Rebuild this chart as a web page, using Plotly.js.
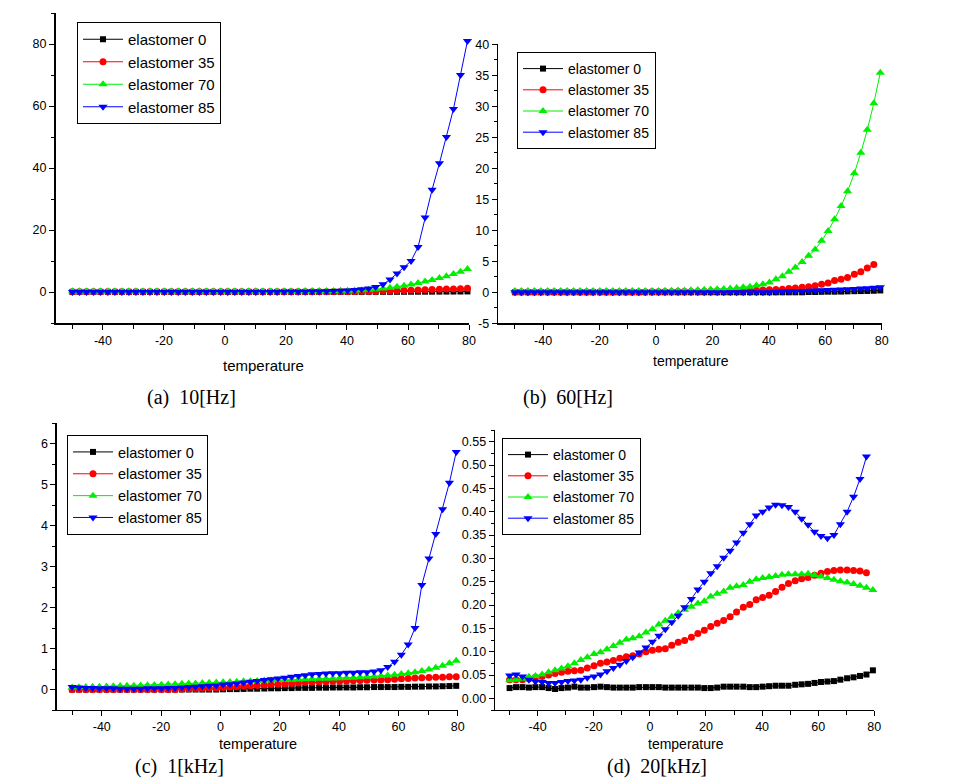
<!DOCTYPE html>
<html>
<head>
<meta charset="utf-8">
<script src="https://cdn.plot.ly/plotly-3.0.1.min.js"></script>
<style>html,body{margin:0;padding:0;background:#fff;}#chart{width:976px;height:779px;}</style>
</head>
<body>
<div id="chart"></div>
<script>
// Temperature (°C)
const temperature = [-50.0,-47.7,-45.4,-43.1,-40.8,-38.4,-36.1,-33.8,-31.5,-29.2,
  -26.9,-24.6,-22.3,-19.9,-17.6,-15.3,-13.0,-10.7,-8.4,-6.1,
  -3.8,-1.4,0.9,3.2,5.5,7.8,10.1,12.4,14.8,17.1,
  19.4,21.7,24.0,26.3,28.6,30.9,33.3,35.6,37.9,40.2,
  42.5,44.8,47.1,49.4,51.8,54.1,56.4,58.7,61.0,63.3,
  65.6,67.9,70.3,72.6,74.9,77.2,79.5];

const seriesNames = ['elastomer 0','elastomer 35','elastomer 70','elastomer 85'];
const captions = ['(a)\u00a0\u00a010[Hz]','(b)\u00a0\u00a060[Hz]','(c)\u00a0\u00a01[kHz]','(d)\u00a0\u00a020[kHz]'];
const xTitle = 'temperature';

// tick values / labels (hyphen minus as in the reference)
const xTickVals = [-40,-20,0,20,40,60,80];
const xTickText = ['-40','-20','0','20','40','60','80'];
const aTickVals = [0,20,40,60,80];
const aTickText = ['0','20','40','60','80'];
const bTickVals = [-5,0,5,10,15,20,25,30,35,40];
const bTickText = ['-5','0','5','10','15','20','25','30','35','40'];
const cTickVals = [0,1,2,3,4,5,6];
const cTickText = ['0','1','2','3','4','5','6'];
const dTickVals = [0,0.05,0.10,0.15,0.20,0.25,0.30,0.35,0.40,0.45,0.50,0.55];
const dTickText = ['0.00','0.05','0.10','0.15','0.20','0.25','0.30','0.35','0.40','0.45','0.50','0.55'];

// (a) 10 Hz
const a_e0 = [0.03,0.03,0.03,0.03,0.03,0.03,0.03,0.03,0.03,0.03,
  0.03,0.03,0.03,0.03,0.03,0.03,0.03,0.03,0.03,0.03,
  0.03,0.03,0.03,0.03,0.03,0.03,0.03,0.03,0.03,0.03,
  0.03,0.03,0.03,0.03,0.03,0.03,0.03,0.03,0.03,0.03,
  0.04,0.04,0.05,0.05,0.06,0.06,0.07,0.08,0.09,0.10,
  0.11,0.12,0.13,0.14,0.15,0.16,0.18];
const a_e35 = [0.05,0.05,0.05,0.05,0.05,0.05,0.05,0.05,0.05,0.05,
  0.05,0.05,0.05,0.05,0.05,0.05,0.05,0.05,0.05,0.05,
  0.05,0.05,0.05,0.05,0.05,0.05,0.05,0.05,0.05,0.05,
  0.06,0.07,0.08,0.09,0.10,0.11,0.12,0.13,0.15,0.17,
  0.19,0.22,0.25,0.28,0.32,0.36,0.40,0.47,0.54,0.62,
  0.70,0.78,0.86,0.93,1.00,1.08,1.20];
const a_e70 = [0.25,0.25,0.25,0.25,0.25,0.25,0.25,0.25,0.25,0.25,
  0.25,0.25,0.25,0.25,0.25,0.25,0.25,0.25,0.25,0.25,
  0.25,0.25,0.25,0.25,0.25,0.25,0.25,0.25,0.25,0.25,
  0.26,0.27,0.28,0.29,0.30,0.31,0.33,0.35,0.38,0.41,
  0.45,0.55,0.7,0.9,1.1,1.4,1.7,2.0,2.4,2.9,
  3.4,3.9,4.5,5.1,5.8,6.5,7.4];
const a_e85 = [0.02,0.02,0.02,0.02,0.02,0.02,0.02,0.02,0.02,0.02,
  0.02,0.02,0.02,0.02,0.02,0.02,0.02,0.02,0.02,0.02,
  0.02,0.02,0.02,0.02,0.02,0.02,0.02,0.02,0.02,0.02,
  0.05,0.07,0.09,0.12,0.15,0.2,0.25,0.3,0.38,0.5,
  0.65,0.85,1.1,1.6,2.5,4.0,6.0,8.0,10.0,14.5,
  24.0,33.0,41.5,50.0,59.0,70.0,81.0];

// (b) 60 Hz
const b_e0 = [0.0,0.0,0.0,0.0,0.0,0.0,0.0,0.0,0.0,0.0,
  0.0,0.0,0.0,0.0,0.0,0.0,0.0,0.0,0.0,0.0,
  0.0,0.0,0.0,0.0,0.0,0.0,0.0,0.0,0.0,0.0,
  0.0,0.0,0.0,0.0,0.0,0.0,0.0,0.0,0.0,0.0,
  0.0,0.0,0.0,0.0,0.0,0.05,0.05,0.08,0.1,0.1,
  0.12,0.15,0.18,0.2,0.22,0.25,0.3];
const b_e35 = [0.05,0.05,0.05,0.05,0.05,0.05,0.05,0.05,0.05,0.05,
  0.05,0.05,0.05,0.05,0.05,0.05,0.05,0.05,0.05,0.05,
  0.06,0.07,0.08,0.09,0.10,0.11,0.12,0.13,0.14,0.15,
  0.17,0.19,0.21,0.23,0.25,0.28,0.31,0.34,0.38,0.42,
  0.45,0.5,0.6,0.7,0.8,0.9,1.05,1.3,1.5,1.9,
  2.1,2.4,2.9,3.3,3.9,4.5,null];
const b_e70 = [0.2,0.2,0.2,0.2,0.2,0.2,0.2,0.2,0.2,0.2,
  0.2,0.2,0.2,0.2,0.2,0.2,0.2,0.2,0.2,0.2,
  0.2,0.2,0.22,0.24,0.26,0.28,0.30,0.33,0.36,0.40,
  0.44,0.49,0.55,0.62,0.70,0.80,0.9,1.1,1.3,1.6,
  2.1,2.6,3.3,4.0,4.9,5.9,6.9,8.3,9.9,11.8,
  13.9,16.3,19.2,22.5,26.2,30.5,35.4];
const b_e85 = [0.0,0.0,0.0,0.0,0.0,0.0,0.0,0.0,0.0,0.0,
  0.0,0.0,0.0,0.0,0.0,0.0,0.0,0.0,0.0,0.0,
  0.0,0.0,0.0,0.0,0.0,0.0,0.0,0.0,0.0,0.0,
  0.0,0.0,0.0,0.0,0.0,0.0,0.0,0.0,0.0,0.0,
  0.1,0.12,0.15,0.18,0.2,0.25,0.3,0.33,0.36,0.4,
  0.45,0.5,0.55,0.6,0.65,0.72,0.8];

// (c) 1 kHz
const c_e0 = [0.0,0.0,0.0,0.0,0.0,0.0,0.0,0.0,0.0,0.0,
  0.0,0.0,0.0,0.0,0.0,0.0,0.0,0.0,0.0,0.0,
  0.0,0.0,0.005,0.01,0.01,0.015,0.02,0.02,0.025,0.03,
  0.03,0.035,0.035,0.04,0.04,0.04,0.045,0.045,0.05,0.05,
  0.05,0.05,0.055,0.055,0.06,0.06,0.06,0.06,0.065,0.065,
  0.07,0.07,0.075,0.075,0.08,0.085,0.09];
const c_e35 = [0.0,0.0,0.0,0.0,0.0,0.0,0.0,0.0,0.0,0.0,
  0.0,0.0,0.0,0.0,0.0,0.0,0.01,0.02,0.025,0.03,
  0.035,0.04,0.05,0.06,0.07,0.08,0.09,0.10,0.11,0.12,
  0.13,0.14,0.15,0.16,0.17,0.18,0.185,0.19,0.2,0.205,
  0.21,0.215,0.22,0.225,0.23,0.235,0.24,0.25,0.26,0.27,
  0.28,0.29,0.295,0.30,0.30,0.31,0.31];
const c_e70 = [0.05,0.055,0.06,0.065,0.07,0.075,0.08,0.085,0.09,0.095,
  0.10,0.105,0.11,0.115,0.12,0.13,0.14,0.145,0.15,0.16,
  0.165,0.17,0.18,0.185,0.19,0.2,0.205,0.21,0.22,0.225,
  0.23,0.235,0.24,0.245,0.25,0.255,0.26,0.265,0.27,0.275,
  0.28,0.29,0.3,0.31,0.32,0.33,0.34,0.36,0.38,0.40,
  0.42,0.45,0.49,0.53,0.58,0.64,0.70];
const c_e85 = [0.06,0.05,0.04,0.04,0.03,0.03,0.03,0.02,0.02,0.02,
  0.02,0.03,0.03,0.03,0.04,0.04,0.05,0.06,0.07,0.08,
  0.09,0.10,0.12,0.13,0.15,0.17,0.19,0.21,0.23,0.25,
  0.27,0.29,0.31,0.33,0.35,0.37,0.38,0.39,0.40,0.40,
  0.41,0.41,0.42,0.42,0.44,0.47,0.55,0.68,0.85,1.1,
  1.5,2.55,3.2,3.8,4.4,5.05,5.8];

// (d) 20 kHz
const d_e0 = [0.022,0.024,0.024,0.023,0.024,0.024,0.022,0.020,0.022,0.023,
  0.025,0.023,0.023,0.024,0.025,0.024,0.023,0.023,0.023,0.023,
  0.024,0.024,0.024,0.024,0.023,0.023,0.023,0.023,0.023,0.023,
  0.022,0.022,0.023,0.025,0.025,0.025,0.025,0.024,0.024,0.025,
  0.026,0.027,0.027,0.027,0.029,0.030,0.031,0.033,0.035,0.036,
  0.037,0.040,0.043,0.045,0.048,0.051,0.060];
const d_e35 = [0.040,0.040,0.040,0.042,0.045,0.047,0.050,0.053,0.056,0.058,
  0.059,0.060,0.065,0.070,0.075,0.078,0.081,0.086,0.089,0.091,
  0.095,0.100,0.103,0.105,0.106,0.114,0.120,0.124,0.131,0.139,
  0.146,0.154,0.161,0.167,0.175,0.185,0.195,0.201,0.211,0.216,
  0.221,0.229,0.238,0.246,0.252,0.256,0.259,0.264,0.268,0.272,
  0.274,0.275,0.275,0.274,0.273,0.269,null];
const d_e70 = [0.039,0.040,0.042,0.046,0.048,0.051,0.056,0.060,0.064,0.069,
  0.075,0.082,0.088,0.095,0.099,0.105,0.112,0.119,0.126,0.129,
  0.133,0.141,0.148,0.158,0.166,0.175,0.183,0.190,0.196,0.203,
  0.208,0.218,0.224,0.229,0.237,0.240,0.243,0.250,0.255,0.258,
  0.260,0.262,0.265,0.266,0.266,0.266,0.267,0.264,0.261,0.258,
  0.254,0.251,0.248,0.245,0.241,0.237,0.232];
const d_e85 = [0.049,0.051,0.047,0.040,0.036,0.035,0.033,0.033,0.035,0.037,
  0.038,0.040,0.044,0.047,0.051,0.058,0.065,0.072,0.080,0.088,
  0.098,0.109,0.121,0.134,0.148,0.163,0.177,0.195,0.213,0.233,
  0.250,0.268,0.283,0.301,0.316,0.334,0.355,0.373,0.392,0.400,
  0.409,0.415,0.414,0.410,0.400,0.385,0.372,0.357,0.348,0.343,
  0.350,0.373,0.400,0.432,0.470,0.518,null];

const panelData = [
  [a_e0, a_e35, a_e70, a_e85],
  [b_e0, b_e35, b_e70, b_e85],
  [c_e0, c_e35, c_e70, c_e85],
  [d_e0, d_e35, d_e70, d_e85]
];
const yTicks = [[aTickVals, aTickText], [bTickVals, bTickText], [cTickVals, cTickText], [dTickVals, dTickText]];

// ---------- styling / layout ----------
const W = 976, H = 779;
const colors = ['#000000', '#ff0000', '#00ee00', '#0000ff'];
const symbols = ['square', 'circle', 'triangle-up', 'triangle-down'];
const msizes = [6, 7, 8, 8];
const SANS = 'Liberation Sans, Arial, sans-serif';
const SERIF = 'Liberation Serif, Times New Roman, serif';

const panels = [
  {x0: 56,  x1: 469,   y0: 13,    y1: 323,   xr: [-55.4, 80], yr: [-10, 90],       mdt: 10,    lw: 2,   leg: [77, 22],  lfs: 15,   tt: [263, 365], tfs: 15,   cap: [191, 397]},
  {x0: 498, x1: 881.7, y0: 44.3,  y1: 323.3, xr: [-56, 80],   yr: [-5, 40],        mdt: 2.5,   lw: 1.3, leg: [517, 52], lfs: 14,   tt: [691, 361], tfs: 14,   cap: [568, 397]},
  {x0: 56.7,x1: 457.7, y0: 423.3, y1: 710,   xr: [-55.2, 80], yr: [-0.5, 6.5],     mdt: 0.5,   lw: 1.3, leg: [67, 435], lfs: 14.5, tt: [258, 744], tfs: 14.5, cap: [179, 766]},
  {x0: 495, x1: 874.3, y0: 430,   y1: 710,   xr: [-55.2, 80], yr: [-0.025, 0.575], mdt: 0.025, lw: 1.3, leg: [502, 438], lfs: 14,   tt: [686, 744], tfs: 14,   cap: [657, 766]}
];

const traces = [];
const layout = {
  width: W, height: H,
  margin: {l: 0, r: 0, t: 0, b: 0},
  paper_bgcolor: 'white', plot_bgcolor: 'white',
  showlegend: true,
  annotations: []
};

panels.forEach((p, i) => {
  const n = i === 0 ? '' : String(i + 1);
  const legName = 'legend' + n;
  layout['xaxis' + n] = {
    domain: [p.x0 / W, p.x1 / W], range: p.xr, anchor: 'y' + n,
    showline: true, linecolor: 'black', linewidth: p.lw,
    ticks: 'outside', ticklen: 5, tickwidth: 1, tickcolor: 'black',
    tickmode: 'array', tickvals: xTickVals, ticktext: xTickText,
    minor: {dtick: 10, tick0: 0, ticks: 'outside', ticklen: 4, tickwidth: 1, tickcolor: 'black', showgrid: false},
    showgrid: false, zeroline: false,
    tickfont: {family: SANS, size: 12.5, color: 'black'}
  };
  layout['yaxis' + n] = {
    domain: [1 - p.y1 / H, 1 - p.y0 / H], range: p.yr, anchor: 'x' + n,
    showline: true, linecolor: 'black', linewidth: p.lw,
    ticks: 'outside', ticklen: 5, tickwidth: 1, tickcolor: 'black',
    tickmode: 'array', tickvals: yTicks[i][0], ticktext: yTicks[i][1],
    minor: {dtick: p.mdt, tick0: 0, ticks: 'outside', ticklen: 3, tickwidth: 1, tickcolor: 'black', showgrid: false},
    showgrid: false, zeroline: false,
    tickfont: {family: SANS, size: 12.5, color: 'black'}
  };
  layout[legName] = {
    x: p.leg[0] / W, y: 1 - p.leg[1] / H, xanchor: 'left', yanchor: 'top',
    xref: 'paper', yref: 'paper',
    bgcolor: 'white', bordercolor: 'black', borderwidth: 1,
    font: {family: SANS, size: p.lfs, color: 'black'},
    itemwidth: 40, tracegroupgap: 0
  };
  panelData[i].forEach((vals, k) => {
    traces.push({
      x: temperature, y: vals, type: 'scatter', mode: 'lines+markers',
      name: seriesNames[k], legend: legName,
      xaxis: 'x' + n, yaxis: 'y' + n,
      line: {color: colors[k], width: 1},
      marker: {symbol: symbols[k], size: msizes[k], color: colors[k], line: {width: 0}},
      cliponaxis: false
    });
  });
  layout.annotations.push({
    text: xTitle, xref: 'paper', yref: 'paper', showarrow: false, borderpad: 0,
    x: p.tt[0] / W, y: 1 - p.tt[1] / H, xanchor: 'center', yanchor: 'middle',
    font: {family: SANS, size: p.tfs, color: 'black'}
  });
  layout.annotations.push({
    text: captions[i], xref: 'paper', yref: 'paper', showarrow: false, borderpad: 0,
    x: p.cap[0] / W, y: 1 - p.cap[1] / H, xanchor: 'center', yanchor: 'middle',
    font: {family: SERIF, size: 20, color: 'black'}
  });
});

Plotly.newPlot('chart', traces, layout, {staticPlot: true, displayModeBar: false});
</script>
</body>
</html>
